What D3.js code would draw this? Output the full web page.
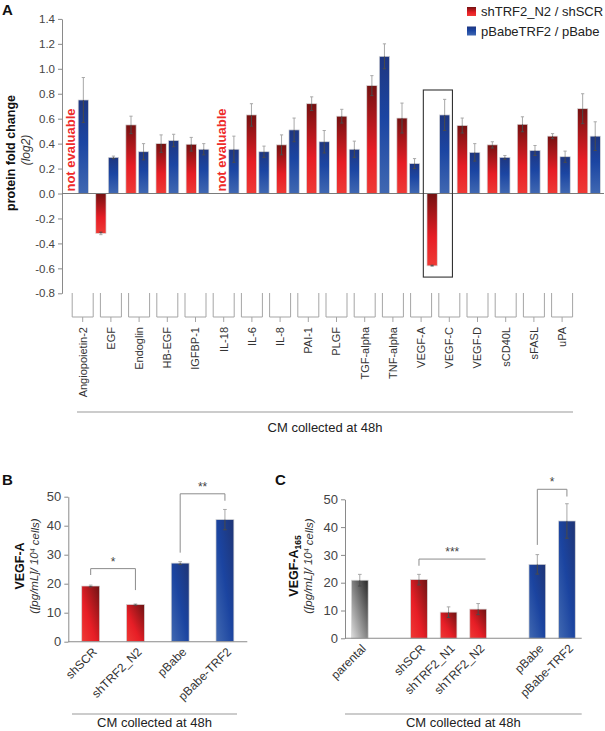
<!DOCTYPE html>
<html>
<head>
<meta charset="utf-8">
<script src="https://cdn.jsdelivr.net/npm/d3@7"></script>
<style>
  body { margin: 0; background: #fff; }
  svg { font-family: "Liberation Sans", Arial, sans-serif; }
</style>
</head>
<body>
<div id="container"></div>
<script>
// panel A: protein fold change (log2)
const aCats = ["Angiopoietin-2","EGF","Endoglin","HB-EGF","IGFBP-1","IL-18","IL-6","IL-8","PAI-1","PLGF",
               "TGF-alpha","TNF-alpha","VEGF-A","VEGF-C","VEGF-D","sCD40L","sFASL","uPA"];
const aShTRF2 =    [null, -0.32, 0.55, 0.40, 0.395, null, 0.63, 0.39, 0.72, 0.62, 0.865, 0.605, -0.58, 0.545, 0.39, 0.555, 0.46, 0.68];
const aShTRF2Err = [null, 0.01, 0.07, 0.07, 0.055, null, 0.09, 0.08, 0.055, 0.055, 0.08, 0.12, 0.005, 0.06, 0.025, 0.06, 0.02, 0.12];
const aPBabe =     [0.75, 0.29, 0.335, 0.425, 0.355, 0.355, 0.335, 0.51, 0.415, 0.355, 1.10, 0.24, 0.63, 0.33, 0.29, 0.345, 0.295, 0.46];
const aPBabeErr =  [0.18, 0.01, 0.065, 0.05, 0.045, 0.105, 0.045, 0.095, 0.09, 0.065, 0.10, 0.04, 0.125, 0.07, 0.015, 0.04, 0.045, 0.115];
const aTicks = [-0.8,-0.6,-0.4,-0.2,0,0.2,0.4,0.6,0.8,1.0,1.2,1.4];
const aSeries = ["shTRF2_N2 / shSCR", "pBabeTRF2 / pBabe"];
const aBoxCat = "VEGF-A";
const aBoxRange = [-0.67, 0.83];

// panel B: VEGF-A ELISA
const bCats = ["shSCR","shTRF2_N2","pBabe","pBabe-TRF2"];
const bVals = [19.2, 12.8, 27.1, 42.1];
const bErr = [0.3, 0.2, 0.5, 3.5];
const bColor = ["red","red","blue","blue"];
const bSig = [
  {from: 0, to: 1, y: 25.2, yl: 23.0, yr: 17.8, label: "*"},
  {from: 2, to: 3, y: 51.0, yl: 30.7, yr: 48.6, label: "**"}
];

// panel C: VEGF-A165 ELISA (8 slots, two empty)
const cCats = ["parental","shSCR","shTRF2_N1","shTRF2_N2","pBabe","pBabe-TRF2"];
const cSlot = [0, 2, 3, 4, 6, 7];
const cVals = [20.9, 21.1, 9.4, 10.5, 26.6, 42.2];
const cErr = [2.1, 1.9, 1.9, 2.0, 3.5, 6.2];
const cColor = ["gray","red","red","red","blue","blue"];
const cSig = [
  {from: 1, to: 3, toShift: 0.25, y: 28.5, yl: 26.1, yr: 28.5, label: "***"},
  {from: 4, to: 5, toShift: 0, y: 53.6, yl: 33.6, yr: 51.0, label: "*"}
];

const W = 605, H = 731;
const svg = d3.select("#container").append("svg").attr("width", W).attr("height", H);

const defs = svg.append("defs");
function grad(id, x2, y2, x1, stops) {
  const g = defs.append("linearGradient").attr("id", id)
    .attr("x1", x1).attr("y1", 0).attr("x2", x2).attr("y2", y2);
  stops.forEach(s => g.append("stop").attr("offset", s[0]).attr("stop-color", s[1]));
}
grad("redV", 0, 1, 0, [[0,"#741111"],[0.6,"#e61d25"],[1,"#ef3a35"]]);
grad("blueV", 0, 1, 0, [[0,"#1e3680"],[0.45,"#1b45a2"],[1,"#4068b2"]]);
grad("redD", 0, 1, 1, [[0,"#6c1313"],[0.6,"#e71e26"],[1,"#ef3a35"]]);
grad("blueD", 0, 1, 1, [[0,"#1f3474"],[0.5,"#1b44a0"],[1,"#4169b1"]]);
grad("grayD", 0, 1, 1, [[0,"#262626"],[1,"#dedede"]]);

const axisCol = "#8a8a8a", textCol = "#444";

// ---------------- Panel A ----------------
const yA = d3.scaleLinear().domain([-0.8, 1.4]).range([293.3, 18.9]);
const xA = d3.scaleBand().domain(aCats).range([62, 604]);
const xSub = d3.scaleBand().domain([0, 1]).range([0, xA.bandwidth()]).paddingInner(0.18).paddingOuter(0.29);
const xALab = d3.scaleBand().domain(aCats).range([68.6, 576.2]);

svg.append("text").text("A").attr("x", 2).attr("y", 15)
  .attr("font-weight", "bold").attr("font-size", 15).attr("fill", "#111");

const gYA = svg.append("g").attr("transform", "translate(62,0)")
  .call(d3.axisLeft(yA).tickValues(aTicks).tickSize(4).tickSizeOuter(0).tickFormat(d => d.toFixed(1)));
gYA.selectAll("path,line").attr("stroke", axisCol);
gYA.selectAll("text").attr("font-size", 11.5).attr("fill", textCol).attr("font-family", "Liberation Sans, Arial, sans-serif");

svg.append("text").attr("transform", "translate(11,153) rotate(-90)")
  .attr("text-anchor", "middle").attr("dy", "0.35em")
  .attr("font-weight", "bold").attr("font-size", 12.5).attr("fill", "#111").text("protein fold change");
svg.append("text").attr("transform", "translate(26,150) rotate(-90)")
  .attr("text-anchor", "middle").attr("dy", "0.35em")
  .attr("font-style", "italic").attr("font-size", 12).attr("fill", "#333").text("(log2)");

function errBar(g, x, v, e, yS, capW) {
  const top = v >= 0 ? v + e : v - e;
  const bot = v >= 0 ? v - e : v + e;
  g.append("line").attr("x1", x).attr("x2", x).attr("y1", yS(v)).attr("y2", yS(top)).attr("stroke", "#a8a8a8");
  g.append("line").attr("x1", x - capW).attr("x2", x + capW).attr("y1", yS(top)).attr("y2", yS(top)).attr("stroke", "#a8a8a8");
  g.append("line").attr("x1", x).attr("x2", x).attr("y1", yS(v)).attr("y2", yS(bot)).attr("stroke", "#4a4a4a");
  g.append("line").attr("x1", x - capW).attr("x2", x + capW).attr("y1", yS(bot)).attr("y2", yS(bot)).attr("stroke", "#4a4a4a");
}

const aSer = [
  {vals: aShTRF2, err: aShTRF2Err, fill: "url(#redV)"},
  {vals: aPBabe, err: aPBabeErr, fill: "url(#blueV)"}
];
const gBarsA = svg.append("g");
aSer.forEach((s, si) => {
  aCats.forEach((c, i) => {
    const v = s.vals[i];
    const x0 = xA(c) + xSub(si), bw = xSub.bandwidth();
    if (v === null) {
      svg.append("text")
        .attr("transform", "translate(" + (x0 + bw / 2) + "," + (yA(0) - 2) + ") rotate(-90)")
        .attr("dy", "0.36em").attr("font-size", 13).attr("font-weight", "bold")
        .attr("fill", "#ee2b2b").text("not evaluable");
      return;
    }
    gBarsA.append("rect")
      .attr("x", x0).attr("width", bw)
      .attr("y", yA(Math.max(0, v))).attr("height", Math.abs(yA(v) - yA(0)))
      .attr("fill", s.fill).attr("stroke", "#d9d9d9").attr("stroke-width", 0.7);
    errBar(gBarsA, x0 + bw / 2, v, s.err[i], yA, 1.6);
  });
});

// zero line
svg.append("line").attr("x1", 62).attr("x2", 604).attr("y1", yA(0)).attr("y2", yA(0))
  .attr("stroke", "#7a7a7a").attr("stroke-width", 1.2);

// highlight box
svg.append("rect")
  .attr("x", xA(aBoxCat)).attr("width", xA.bandwidth() - 1)
  .attr("y", yA(aBoxRange[1])).attr("height", yA(aBoxRange[0]) - yA(aBoxRange[1]))
  .attr("fill", "none").attr("stroke", "#333").attr("stroke-width", 1.1);

// legend
aSeries.forEach((name, i) => {
  svg.append("rect").attr("x", 467).attr("y", 7 + i * 19.5).attr("width", 9).attr("height", 9)
    .attr("fill", i === 0 ? "url(#redV)" : "url(#blueV)");
  svg.append("text").attr("x", 481).attr("y", 16 + i * 19.5).attr("font-size", 13)
    .attr("fill", "#222").text(name);
});

// category brackets and labels
const gLab = svg.append("g");
aCats.forEach(c => {
  const cx = xALab(c) + xALab.bandwidth() / 2;
  gLab.append("path")
    .attr("d", "M" + (cx - 10.5) + ",293 V317 H" + (cx + 10.5) + " V293 M" + cx + ",317 V322")
    .attr("fill", "none").attr("stroke", "#a5a5a5");
  gLab.append("text")
    .attr("transform", "translate(" + cx + ",327) rotate(-90)")
    .attr("text-anchor", "end").attr("dy", "0.36em")
    .attr("font-size", 11).attr("fill", "#333").text(c);
});
svg.append("line").attr("x1", 77).attr("x2", 573).attr("y1", 412).attr("y2", 412).attr("stroke", "#999");
svg.append("text").attr("x", 325).attr("y", 431.5).attr("text-anchor", "middle")
  .attr("font-size", 13).attr("fill", "#222").text("CM collected at 48h");

// ---------------- Panels B and C ----------------
const fills = {red: "url(#redD)", blue: "url(#blueD)", gray: "url(#grayD)"};

function panel(opt) {
  const y = d3.scaleLinear().domain([0, 50]).range([opt.y0, opt.y50]);
  const x = d3.scaleBand().domain(d3.range(opt.nSlots)).range([opt.xl, opt.xr]);
  const bw = x.bandwidth() * opt.barFrac;

  svg.append("text").text(opt.letter).attr("x", opt.letterX).attr("y", 485)
    .attr("font-weight", "bold").attr("font-size", 15).attr("fill", "#111");

  const gY = svg.append("g").attr("transform", "translate(" + opt.xl + ",0)")
    .call(d3.axisLeft(y).ticks(5).tickSize(4).tickSizeOuter(0).tickFormat(d3.format("d")));
  gY.selectAll("path,line").attr("stroke", axisCol);
  gY.selectAll("text").attr("font-size", 13).attr("fill", textCol).attr("font-family", "Liberation Sans, Arial, sans-serif");

  const g = svg.append("g");
  opt.cats.forEach((c, i) => {
    const cx = x(opt.slots[i]) + x.bandwidth() / 2;
    g.append("rect").attr("x", cx - bw / 2).attr("width", bw)
      .attr("y", y(opt.vals[i])).attr("height", y(0) - y(opt.vals[i]))
      .attr("fill", fills[opt.colors[i]]).attr("stroke", "#d5d5d5").attr("stroke-width", 0.7);
    errBar(g, cx, opt.vals[i], opt.err[i], y, 1.8);
    svg.append("text")
      .attr("transform", "translate(" + (cx + 4) + "," + (opt.y0 + 8) + ") rotate(-45)")
      .attr("text-anchor", "end").attr("dy", "0.35em")
      .attr("font-size", 12).attr("fill", "#333").text(c);
  });

  svg.append("line").attr("x1", opt.xl).attr("x2", opt.xr).attr("y1", y(0)).attr("y2", y(0))
    .attr("stroke", axisCol).attr("stroke-width", 1.1);

  opt.sig.forEach(s => {
    const x1 = x(opt.slots[s.from]) + x.bandwidth() / 2;
    const x2 = x(opt.slots[s.to]) + x.bandwidth() * (0.5 + (s.toShift || 0));
    svg.append("path")
      .attr("d", "M" + x1 + "," + y(s.yl) + " V" + y(s.y) + " H" + x2 + " V" + y(s.yr))
      .attr("fill", "none").attr("stroke", "#8c8c8c");
    svg.append("text").attr("x", (x1 + x2) / 2).attr("y", y(s.y) - 3)
      .attr("text-anchor", "middle").attr("font-size", 12).attr("fill", "#444").text(s.label);
  });

  // y axis title
  const t = svg.append("text").attr("transform", "translate(" + opt.titleX + ",566) rotate(-90)")
    .attr("text-anchor", "middle").attr("dy", "0.35em")
    .attr("font-weight", "bold").attr("font-size", 12.5).attr("fill", "#111").text("VEGF-A");
  if (opt.sub) t.append("tspan").attr("font-size", 8.5).attr("dy", "0.35em").text(opt.sub);
  const u = svg.append("text").attr("transform", "translate(" + opt.unitX + ",566) rotate(-90)")
    .attr("text-anchor", "middle").attr("dy", "0.35em")
    .attr("font-style", "italic").attr("font-size", 11.5).attr("fill", "#333");
  u.append("tspan").text("([pg/mL]/ 10");
  u.append("tspan").attr("font-size", 7).attr("dy", "-0.5em").text("4");
  u.append("tspan").attr("dy", "0.35em").text(" cells)");

  svg.append("line").attr("x1", opt.lineL).attr("x2", opt.lineR).attr("y1", 714).attr("y2", 714).attr("stroke", "#999");
  svg.append("text").attr("x", (opt.lineL + opt.lineR) / 2).attr("y", 727).attr("text-anchor", "middle")
    .attr("font-size", 13).attr("fill", "#222").text("CM collected at 48h");
}

panel({
  letter: "B", letterX: 2, cats: bCats, slots: d3.range(4), nSlots: 4, vals: bVals, err: bErr,
  colors: bColor, sig: bSig, y0: 641.7, y50: 496.7, xl: 68.3, xr: 247.3, barFrac: 0.4,
  titleX: 20, unitX: 34, sub: null, lineL: 72, lineR: 237
});
panel({
  letter: "C", letterX: 275, cats: cCats, slots: cSlot, nSlots: 8, vals: cVals, err: cErr,
  colors: cColor, sig: cSig, y0: 638.3, y50: 499.3, xl: 345, xr: 581.7, barFrac: 0.565,
  titleX: 294, unitX: 308, sub: "165", lineL: 345, lineR: 581.7
});
</script>
</body>
</html>
